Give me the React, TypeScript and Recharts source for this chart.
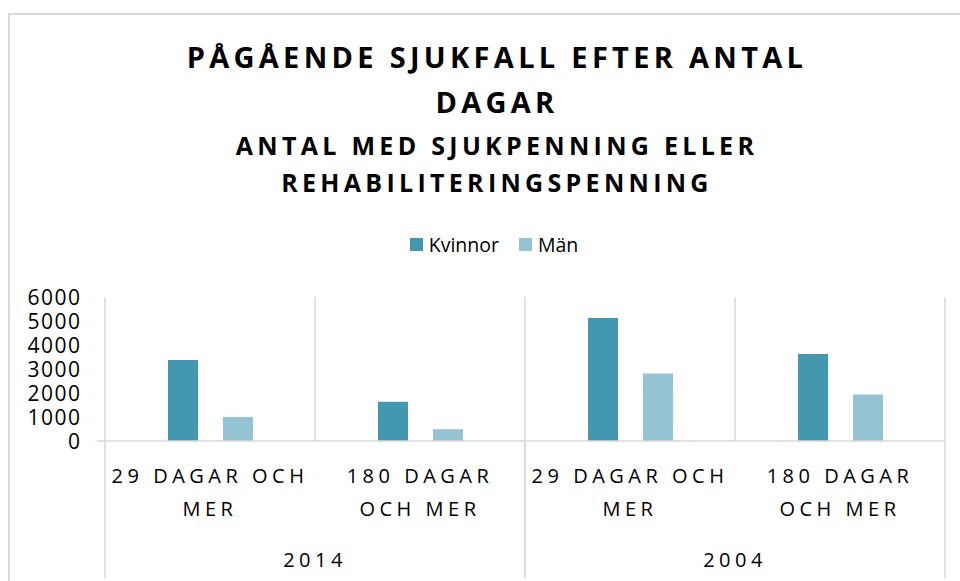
import React from 'react'
import { BarChart, Bar, XAxis, YAxis, CartesianGrid, Legend } from 'recharts'

const categories = ['29 DAGAR OCH MER', '180 DAGAR OCH MER', '29 DAGAR OCH MER', '180 DAGAR OCH MER']
const years = ['2014', '2014', '2004', '2004']
const kvinnor = [3380, 1640, 5120, 3620]
const man = [1000, 490, 2810, 1940]
const yTicks = [0, 1000, 2000, 3000, 4000, 5000, 6000]
const series = [
  { key: 'kvinnor', name: 'Kvinnor', color: '#4398AF' },
  { key: 'man', name: 'Män', color: '#94C3D4' },
]

const data = categories.map((c, i) => ({ cat: c, year: years[i], kvinnor: kvinnor[i], man: man[i] }))

const FONT = '"Open Sans", sans-serif'
const GRID = '#d9d9d9'
const W = 960
const H = 581
const PLOT_LEFT = 105
const PLOT_RIGHT = 945
const CAT_AXIS_H = 90
const YEAR_AXIS_H = 50

// greedy wrap, Excel style
function wrap(text: string, max: number) {
  const out: string[] = []
  let cur = ''
  for (const w of text.split(' ')) {
    const next = cur ? cur + ' ' + w : w
    if (next.length > max && cur) {
      out.push(cur)
      cur = w
    } else cur = next
  }
  if (cur) out.push(cur)
  return out
}

function CatTick({ x, y, payload }: any) {
  const lines = wrap(String(payload.value), 12)
  return (
    <g>
      {lines.map((l, i) => (
        <text key={i} x={x} y={y + 42 + i * 33} textAnchor="middle" fontFamily={FONT} fontSize={20}
          letterSpacing={4.5} fill="#000">{l}</text>
      ))}
    </g>
  )
}

function YearTick({ x, y, payload }: any) {
  const half = (PLOT_RIGHT - PLOT_LEFT) / 4
  return (
    <g>
      <line x1={x - half} x2={x - half} y1={y - CAT_AXIS_H} y2={y + 47} stroke={GRID} strokeWidth={1.5} />
      <line x1={x + half} x2={x + half} y1={y - CAT_AXIS_H} y2={y + 47} stroke={GRID} strokeWidth={1.5} />
      <text x={x} y={y + 36} textAnchor="middle" fontFamily={FONT} fontSize={20} letterSpacing={4.5} fill="#000">
        {payload.value}
      </text>
    </g>
  )
}

function YTick({ x, y, payload }: any) {
  return (
    <g>
      {payload.value === 0 && <line x1={x + 17} x2={x + 25} y1={y} y2={y} stroke={GRID} strokeWidth={1.5} />}
      <text x={x + 1.5} y={y} dy={7.5} textAnchor="end" fontFamily={FONT} fontSize={21} letterSpacing={1.5}
        fill="#000">
        {payload.value}
      </text>
    </g>
  )
}

function LegendContent() {
  return (
    <div style={{ display: 'flex', justifyContent: 'center', gap: 20, fontFamily: FONT, fontSize: 19.5, color: '#000' }}>
      {series.map(s => (
        <div key={s.key} style={{ display: 'flex', alignItems: 'center', gap: 6 }}>
          <span style={{ width: 13, height: 13, background: s.color, display: 'inline-block' }} />
          <span>{s.name}</span>
        </div>
      ))}
    </div>
  )
}

export default function App() {
  return (
    <div style={{ position: 'absolute', left: 0, top: 0, width: W, height: H, overflow: 'hidden', background: '#fff' }}>
      <div style={{ position: 'absolute', left: 8, top: 13, width: 1000, height: 700, border: `2px solid ${GRID}` }} />
      <div style={{ position: 'absolute', left: 0, width: 994, top: 34, textAlign: 'center', fontFamily: FONT,
        fontWeight: 700, color: '#000' }}>
        <div style={{ fontSize: 29, letterSpacing: 4.3, lineHeight: '45px' }}>PÅGÅENDE SJUKFALL EFTER ANTAL<br />DAGAR</div>
        <div style={{ fontSize: 25, letterSpacing: 4.3, lineHeight: '37px', marginTop: 3 }}>ANTAL MED SJUKPENNING ELLER<br />REHABILITERINGSPENNING</div>
      </div>
      <div style={{ position: 'absolute', left: 0, top: 0 }}>
        <BarChart width={W} height={H} data={data} margin={{ top: 297, right: W - PLOT_RIGHT, bottom: 0, left: 0 }}
          barCategoryGap="30%" barGap={25}>
          <CartesianGrid horizontal={false} stroke={GRID} strokeWidth={1.5}
            verticalCoordinatesGenerator={(p: any) => {
              const left = p?.offset?.left ?? PLOT_LEFT
              const width = p?.offset?.width ?? PLOT_RIGHT - PLOT_LEFT
              return [...categories.map((_, i) => left + (width * i) / categories.length), left + width]
            }} />
          <XAxis dataKey="cat" xAxisId={0} height={CAT_AXIS_H} tickLine={false} tickSize={0} tickMargin={0}
            axisLine={{ stroke: GRID, strokeWidth: 1.5 }} tick={<CatTick />} interval={0} />
          <XAxis dataKey="year" xAxisId="year" height={YEAR_AXIS_H} allowDuplicatedCategory={false} tickLine={false}
            tickSize={0} tickMargin={0} axisLine={false} tick={<YearTick />} interval={0} />
          <YAxis type="number" domain={[0, 6000]} ticks={yTicks} width={PLOT_LEFT} axisLine={false} tickLine={false}
            tickSize={0} tickMargin={25} tick={<YTick />} interval={0} />
          <Legend verticalAlign="middle" layout="horizontal" content={<LegendContent />}
            wrapperStyle={{ top: 231, left: 0, width: 988 }} />
          {series.map(s => (
            <Bar key={s.key} dataKey={s.key} name={s.name} fill={s.color} xAxisId={0} isAnimationActive={false} />
          ))}
        </BarChart>
      </div>
    </div>
  )
}
